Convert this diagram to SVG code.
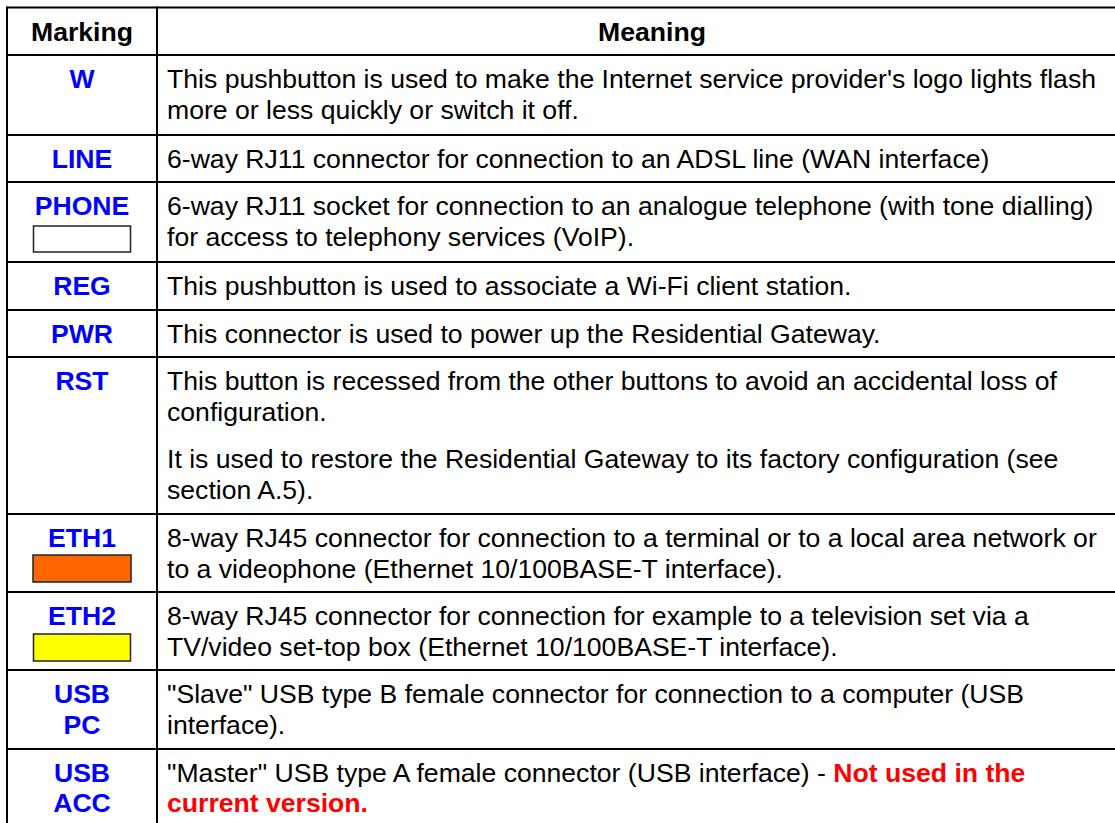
<svg xmlns="http://www.w3.org/2000/svg" width="1115" height="823" viewBox="0 0 1115 823">
  <style>
    text { font-family: "Liberation Sans", Arial, sans-serif; font-size: 26.6px; fill: #000; }
    .head { font-weight: bold; text-anchor: middle; }
    .mark { font-weight: bold; fill: #0000FF; text-anchor: middle; }
    .warn { font-weight: bold; fill: #FF0000; }
    .rule { stroke: #000; stroke-width: 2; fill: none; }
    .swatch { stroke: #222; stroke-width: 1.5; }
  </style>
  <rect x="0" y="0" width="1115" height="823" fill="#fff"/>

  <!-- table grid -->
  <g id="grid" class="rule">
    <line x1="7" y1="7.5" x2="1115" y2="7.5"/>
    <line x1="7" y1="55" x2="1115" y2="55"/>
    <line x1="7" y1="135" x2="1115" y2="135"/>
    <line x1="7" y1="182" x2="1115" y2="182"/>
    <line x1="7" y1="262" x2="1115" y2="262"/>
    <line x1="7" y1="310" x2="1115" y2="310"/>
    <line x1="7" y1="357" x2="1115" y2="357"/>
    <line x1="7" y1="514" x2="1115" y2="514"/>
    <line x1="7" y1="592" x2="1115" y2="592"/>
    <line x1="7" y1="670" x2="1115" y2="670"/>
    <line x1="7" y1="749" x2="1115" y2="749"/>
    <line x1="7" y1="6.5" x2="7" y2="823"/>
    <line x1="157" y1="6.5" x2="157" y2="823"/>
  </g>

  <g id="header">
    <text class="head" x="82" y="41">Marking</text>
    <text class="head" x="652" y="41">Meaning</text>
  </g>

  <g id="row-w">
    <text class="mark" x="82" y="88">W</text>
    <text x="167" y="88">This pushbutton is used to make the Internet service provider's logo lights flash</text>
    <text x="167" y="119">more or less quickly or switch it off.</text>
  </g>

  <g id="row-line">
    <text class="mark" x="82" y="168">LINE</text>
    <text x="167" y="168">6-way RJ11 connector for connection to an ADSL line (WAN interface)</text>
  </g>

  <g id="row-phone">
    <text class="mark" x="82" y="215">PHONE</text>
    <rect class="swatch" x="33.5" y="226" width="97" height="26" fill="#fff"/>
    <text x="167" y="215">6-way RJ11 socket for connection to an analogue telephone (with tone dialling)</text>
    <text x="167" y="246">for access to telephony services (VoIP).</text>
  </g>

  <g id="row-reg">
    <text class="mark" x="82" y="295">REG</text>
    <text x="167" y="295">This pushbutton is used to associate a Wi-Fi client station.</text>
  </g>

  <g id="row-pwr">
    <text class="mark" x="82" y="343">PWR</text>
    <text x="167" y="343">This connector is used to power up the Residential Gateway.</text>
  </g>

  <g id="row-rst">
    <text class="mark" x="82" y="390">RST</text>
    <text x="167" y="390">This button is recessed from the other buttons to avoid an accidental loss of</text>
    <text x="167" y="421">configuration.</text>
    <text x="167" y="468">It is used to restore the Residential Gateway to its factory configuration (see</text>
    <text x="167" y="499">section A.5).</text>
  </g>

  <g id="row-eth1">
    <text class="mark" x="82" y="547">ETH1</text>
    <rect class="swatch" x="33" y="555" width="98" height="27" fill="#FF6600"/>
    <text x="167" y="547">8-way RJ45 connector for connection to a terminal or to a local area network or</text>
    <text x="167" y="578">to a videophone (Ethernet 10/100BASE-T interface).</text>
  </g>

  <g id="row-eth2">
    <text class="mark" x="82" y="625">ETH2</text>
    <rect class="swatch" x="33.5" y="634" width="97" height="27" fill="#FFFF00"/>
    <text x="167" y="625">8-way RJ45 connector for connection for example to a television set via a</text>
    <text x="167" y="656">TV/video set-top box (Ethernet 10/100BASE-T interface).</text>
  </g>

  <g id="row-usb-pc">
    <text class="mark" x="82" y="703">USB</text>
    <text class="mark" x="82" y="734">PC</text>
    <text x="167" y="703">"Slave" USB type B female connector for connection to a computer (USB</text>
    <text x="167" y="734">interface).</text>
  </g>

  <g id="row-usb-acc">
    <text class="mark" x="82" y="782">USB</text>
    <text class="mark" x="82" y="812">ACC</text>
    <text x="167" y="782">"Master" USB type A female connector (USB interface) - <tspan class="warn">Not used in the</tspan></text>
    <text class="warn" x="167" y="812">current version.</text>
  </g>
</svg>
